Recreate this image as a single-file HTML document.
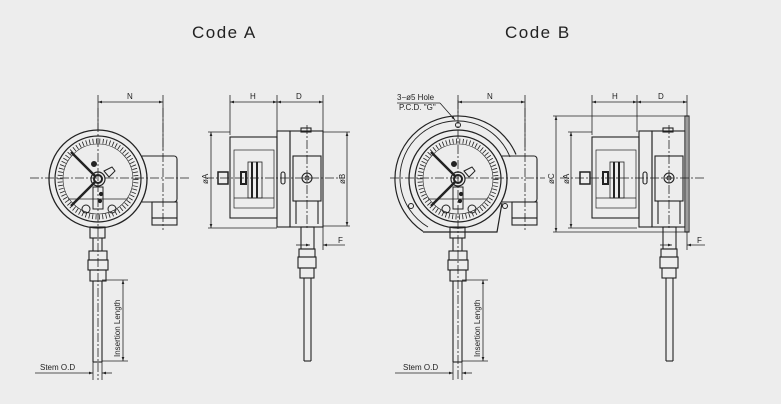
<!DOCTYPE html>
<html><head><meta charset="utf-8"><style>
html,body{margin:0;padding:0;background:#ededed;}
svg{display:block}
text{font-family:"Liberation Sans",sans-serif;fill:#222}
</style></head><body>
<svg width="781" height="404" viewBox="0 0 781 404" xmlns="http://www.w3.org/2000/svg">
<rect width="781" height="404" fill="#ededed"/>
<defs>
<marker id="ar" viewBox="0 0 6 6" refX="6" refY="3" markerWidth="5" markerHeight="5" orient="auto-start-reverse"><path d="M0,1 L6,3 L0,5z" fill="#222"/></marker>
<g id="dial" fill="none" stroke="#222">
  <circle r="43" stroke-width="1.2"/>
  <circle r="38" stroke-width="5" stroke-dasharray="0.8 2.6"/>
  <circle r="35" stroke-width="0.6"/>
  <line x1="-27" y1="-27" x2="-2" y2="-2" stroke-width="2.5"/>
  <line x1="-27" y1="27" x2="-2" y2="2" stroke-width="2.5"/>
  <circle r="7" stroke-width="1.2"/><circle r="4" stroke-width="2"/>
  <path d="M6,-8 l8,-4 l3,4 l-6,6z" stroke-width="1"/>
  <rect x="-5" y="8" width="10" height="22" stroke-width="1"/>
  <circle cx="-12" cy="30" r="4"/><circle cx="14" cy="30" r="4"/>
  <circle cx="-4" cy="-15" r="2.5" fill="#222"/><circle cx="3" cy="15" r="1.6" fill="#222"/><circle cx="2" cy="22" r="1.6" fill="#222"/>
  <line x1="-30" y1="20" x2="30" y2="20" stroke-width="0.8"/>
</g>
<g id="box" fill="none" stroke="#222" stroke-width="1.1">
  <path d="M0,-23 h32 a3,3 0 0 1 3,3 v40 a3,3 0 0 1 -3,3 h-32"/>
  <rect x="10" y="23" width="25" height="16"/>
  <rect x="10" y="39" width="25" height="7"/>
</g>
<g id="stemF" fill="none" stroke="#222" stroke-width="1.1">
  <rect x="-8" y="48" width="15" height="11"/>
  <line x1="-5" y1="59" x2="-5" y2="72"/><line x1="4" y1="59" x2="4" y2="72"/>
  <rect x="-9" y="72" width="18" height="9"/>
  <rect x="-10" y="81" width="20" height="10"/>
  <rect x="-8" y="91" width="16" height="11"/>
  <line x1="-5" y1="102" x2="-5" y2="183"/><line x1="4" y1="102" x2="4" y2="183"/>
  <line x1="-5" y1="183" x2="4" y2="183"/>
</g>
<g id="side" fill="none" stroke="#222" stroke-width="1.1">
  <rect x="0" y="-41" width="47" height="81"/>
  <rect x="4" y="-28" width="40" height="58" stroke-width="0.7"/>
  <line x1="4" y1="20" x2="44" y2="20" stroke-width="0.7"/>
  <rect x="18" y="-16" width="14" height="36" stroke-width="0.8"/>
  <line x1="22" y1="-16" x2="22" y2="20" stroke-width="2"/><line x1="27" y1="-16" x2="27" y2="20" stroke-width="2"/>
  <rect x="-12" y="-6" width="10" height="12" stroke-width="1.5"/>
  <rect x="11" y="-6" width="5" height="12" stroke-width="2"/>
  <rect x="47" y="-47" width="13" height="96"/>
  <rect x="51" y="-6" width="4" height="12" rx="2"/>
  <rect x="60" y="-47" width="33" height="96"/>
  <rect x="63" y="-22" width="28" height="45"/>
  <circle cx="77" cy="0" r="5"/><circle cx="77" cy="0" r="2"/>
  <rect x="71" y="-50" width="10" height="4"/>
  <line x1="63" y1="23" x2="91" y2="23"/><line x1="66" y1="23" x2="66" y2="46"/><line x1="88" y1="23" x2="88" y2="46"/>
</g>
<g id="stemS" fill="none" stroke="#222" stroke-width="1.1">
  <rect x="-6" y="49" width="13" height="22"/>
  <rect x="-8" y="71" width="16" height="8"/>
  <rect x="-9" y="79" width="18" height="11"/>
  <rect x="-7" y="90" width="14" height="10"/>
  <line x1="-3" y1="100" x2="-3" y2="183"/><line x1="4" y1="100" x2="4" y2="183"/>
  <line x1="-3" y1="183" x2="4" y2="183"/>
</g>
</defs>

<text x="192" y="38" font-size="17" letter-spacing="1.5">Code  A</text>
<text x="505" y="38" font-size="17" letter-spacing="1.5">Code  B</text>

<g stroke="#222" fill="none" stroke-width="0.8" stroke-dasharray="9 2 2 2">
  <line x1="30" y1="178" x2="190" y2="178"/><line x1="98" y1="108" x2="98" y2="380"/><line x1="163" y1="108" x2="163" y2="230"/>
  <line x1="205" y1="178" x2="345" y2="178"/><line x1="307" y1="125" x2="307" y2="230"/>
  <line x1="390" y1="178" x2="545" y2="178"/><line x1="458" y1="100" x2="458" y2="380"/><line x1="525" y1="108" x2="525" y2="230"/>
  <line x1="560" y1="178" x2="705" y2="178"/><line x1="669" y1="125" x2="669" y2="230"/>
</g>

<!-- Code A front -->
<g transform="translate(98,179)">
  <circle r="49" fill="none" stroke="#222" stroke-width="1.3"/>
  <use href="#dial"/><use href="#box" transform="translate(44,0)"/><use href="#stemF"/>
</g>
<!-- Code B front -->
<g transform="translate(458,179)">
  <path d="M-35,52.4 A63,63 0 1 1 58,-24.5 M44,24 L39,53 L-35,53" fill="none" stroke="#222" stroke-width="1.2"/>
  <path d="M-30,48 A57,57 0 1 1 52,-22" fill="none" stroke="#222" stroke-width="0.9"/>
  <circle r="49" fill="none" stroke="#222" stroke-width="1.3"/>
  <circle cx="0" cy="-54" r="2.5" fill="none" stroke="#222"/><circle cx="-47" cy="27" r="2.5" fill="none" stroke="#222"/><circle cx="47" cy="27" r="2.5" fill="none" stroke="#222"/>
  <use href="#dial"/><use href="#box" transform="translate(44,0)"/><use href="#stemF"/>
</g>
<!-- sides -->
<g transform="translate(230,178)"><use href="#side"/><use href="#stemS" transform="translate(77,0)"/></g>
<g transform="translate(592,178)"><use href="#side"/><use href="#stemS" transform="translate(77,0)"/>
  <rect x="93" y="-62" width="4" height="116" fill="none" stroke="#222" stroke-width="1.1"/></g>

<!-- dimensions -->
<g stroke="#222" stroke-width="0.8" fill="none">
  <line x1="98" y1="95" x2="98" y2="130"/><line x1="163" y1="95" x2="163" y2="150"/>
  <line x1="98" y1="102" x2="163" y2="102" marker-start="url(#ar)" marker-end="url(#ar)"/>
  <line x1="230" y1="95" x2="230" y2="135"/><line x1="277" y1="95" x2="277" y2="132"/><line x1="323" y1="95" x2="323" y2="250"/>
  <line x1="230" y1="102" x2="277" y2="102" marker-start="url(#ar)" marker-end="url(#ar)"/>
  <line x1="277" y1="102" x2="323" y2="102" marker-start="url(#ar)" marker-end="url(#ar)"/>
  <line x1="208" y1="132" x2="230" y2="132"/><line x1="208" y1="228" x2="277" y2="228"/>
  <line x1="211" y1="132" x2="211" y2="228" marker-start="url(#ar)" marker-end="url(#ar)"/>
  <line x1="323" y1="132" x2="350" y2="132"/><line x1="323" y1="226" x2="350" y2="226"/>
  <line x1="347" y1="132" x2="347" y2="226" marker-start="url(#ar)" marker-end="url(#ar)"/>
  <line x1="296" y1="245" x2="310" y2="245" marker-end="url(#ar)"/><line x1="323" y1="245" x2="345" y2="245" marker-start="url(#ar)"/>
  <line x1="102" y1="280" x2="128" y2="280"/><line x1="102" y1="361" x2="128" y2="361"/>
  <line x1="123" y1="280" x2="123" y2="361" marker-start="url(#ar)" marker-end="url(#ar)"/>
  <line x1="93" y1="362" x2="93" y2="380"/><line x1="102" y1="362" x2="102" y2="380"/>
  <line x1="35" y1="373" x2="93" y2="373" marker-end="url(#ar)"/><line x1="102" y1="373" x2="112" y2="373" marker-start="url(#ar)"/>

  <line x1="458" y1="95" x2="458" y2="115"/><line x1="525" y1="95" x2="525" y2="150"/>
  <line x1="458" y1="102" x2="525" y2="102" marker-start="url(#ar)" marker-end="url(#ar)"/>
  <line x1="592" y1="95" x2="592" y2="135"/><line x1="637" y1="95" x2="637" y2="132"/><line x1="687" y1="95" x2="687" y2="250"/>
  <line x1="592" y1="102" x2="637" y2="102" marker-start="url(#ar)" marker-end="url(#ar)"/>
  <line x1="637" y1="102" x2="687" y2="102" marker-start="url(#ar)" marker-end="url(#ar)"/>
  <line x1="553" y1="116" x2="687" y2="116"/><line x1="553" y1="232" x2="687" y2="232"/>
  <line x1="556" y1="116" x2="556" y2="232" marker-start="url(#ar)" marker-end="url(#ar)"/>
  <line x1="568" y1="132" x2="592" y2="132"/><line x1="568" y1="228" x2="637" y2="228"/>
  <line x1="571" y1="132" x2="571" y2="228" marker-start="url(#ar)" marker-end="url(#ar)"/>
  <line x1="660" y1="245" x2="672" y2="245" marker-end="url(#ar)"/><line x1="687" y1="245" x2="705" y2="245" marker-start="url(#ar)"/>
  <line x1="462" y1="280" x2="488" y2="280"/><line x1="462" y1="361" x2="488" y2="361"/>
  <line x1="483" y1="280" x2="483" y2="361" marker-start="url(#ar)" marker-end="url(#ar)"/>
  <line x1="453" y1="362" x2="453" y2="380"/><line x1="462" y1="362" x2="462" y2="380"/>
  <line x1="395" y1="373" x2="453" y2="373" marker-end="url(#ar)"/><line x1="462" y1="373" x2="472" y2="373" marker-start="url(#ar)"/>
  <line x1="397" y1="103" x2="440" y2="103"/><line x1="440" y1="103" x2="455" y2="120" marker-end="url(#ar)"/>
</g>
<g font-size="8">
  <text x="127" y="99">N</text><text x="250" y="99">H</text><text x="296" y="99">D</text>
  <text x="487" y="99">N</text><text x="612" y="99">H</text><text x="658" y="99">D</text>
  <text x="338" y="243">F</text><text x="697" y="243">F</text>
  <text x="40" y="370">Stem  O.D</text><text x="403" y="370">Stem  O.D</text>
  <text x="397" y="100">3−ø5  Hole</text><text x="399" y="110">P.C.D.  "G"</text>
  <text transform="translate(208,184) rotate(-90)">øA</text>
  <text transform="translate(345,184) rotate(-90)">øB</text>
  <text transform="translate(554,184) rotate(-90)">øC</text>
  <text transform="translate(569,184) rotate(-90)">øA</text>
  <text transform="translate(120,357) rotate(-90)">Insertion  Length</text>
  <text transform="translate(480,357) rotate(-90)">Insertion  Length</text>
</g>
</svg>
</body></html>
